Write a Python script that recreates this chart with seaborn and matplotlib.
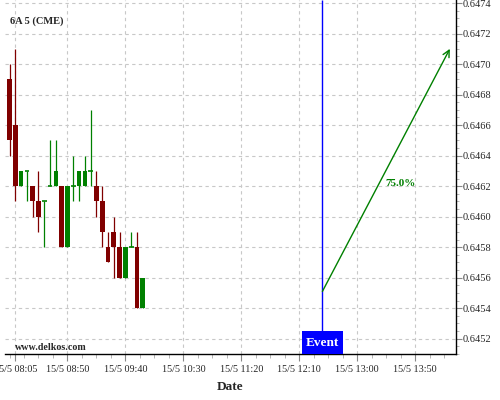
import numpy as np
import seaborn as sns
import matplotlib
matplotlib.use("Agg")
import matplotlib.pyplot as plt
from matplotlib.patches import Rectangle
from matplotlib.ticker import FixedLocator, MultipleLocator, FuncFormatter

# 5 minute candles, 15/5 from 08:00
times = ["08:00", "08:05", "08:10", "08:15", "08:20", "08:25", "08:30", "08:35",
         "08:40", "08:45", "08:50", "08:55", "09:00", "09:05", "09:10", "09:15",
         "09:20", "09:25", "09:30", "09:35", "09:40", "09:45", "09:50", "09:55"]
opens = [0.6469, 0.6466, 0.6462, 0.6463, 0.6462, 0.6461, 0.6461, 0.6462,
         0.6462, 0.6462, 0.6458, 0.6462, 0.6462, 0.6462, 0.6463, 0.6462,
         0.6461, 0.6458, 0.6459, 0.6458, 0.6456, 0.6458, 0.6458, 0.6454]
highs = [0.6470, 0.6471, 0.6463, 0.6463, 0.6462, 0.6463, 0.6461, 0.6465,
         0.6465, 0.6462, 0.6462, 0.6464, 0.6463, 0.6464, 0.6467, 0.6463,
         0.6462, 0.6459, 0.6460, 0.6459, 0.6458, 0.6459, 0.6459, 0.6456]
lows = [0.6464, 0.6461, 0.6462, 0.6461, 0.6460, 0.6459, 0.6458, 0.6462,
        0.6462, 0.6458, 0.6458, 0.6461, 0.6461, 0.6462, 0.6462, 0.6460,
        0.6458, 0.6457, 0.6456, 0.6456, 0.6456, 0.6458, 0.6454, 0.6454]
closes = [0.6465, 0.6462, 0.6463, 0.6463, 0.6461, 0.6460, 0.6461, 0.6462,
          0.6463, 0.6458, 0.6462, 0.6462, 0.6463, 0.6463, 0.6463, 0.6461,
          0.6459, 0.6457, 0.6458, 0.6456, 0.6458, 0.6458, 0.6454, 0.6456]

event_time = "12:30"
event_price = 0.64551
target_time = "14:20"
target_price = 0.64710
prob_label = "75.0%"

tick_times = ["08:05", "08:50", "09:40", "10:30", "11:20", "12:10", "13:00", "13:50"]
y_ticks = [0.6452, 0.6454, 0.6456, 0.6458, 0.6460, 0.6462, 0.6464,
           0.6466, 0.6468, 0.6470, 0.6472, 0.6474]


def to_min(s):
    h, m = s.split(":")
    return int(h) * 60 + int(m)


def fmt_time(v, pos=None):
    v = int(round(v))
    return "15/5 {:02d}:{:02d}".format(v // 60, v % 60)


sns.set_style("white")
plt.rcParams['font.family'] = ['Liberation Serif', 'DejaVu Serif']

t = np.array([to_min(s) for s in times], dtype=float)
o = np.array(opens)
h = np.array(highs)
lo = np.array(lows)
c = np.array(closes)
up = c >= o
cols = np.where(up, "#008000", "#800000")

fig = plt.figure(figsize=(5, 4), dpi=100)
ax = fig.add_axes([0.01, 0.115, 0.902, 0.885])

# wicks, bodies, dojis
ax.vlines(t, lo, h, colors=cols, linewidth=0.9, zorder=2)
body_w = 4.0
ax.bar(t, np.abs(c - o), bottom=np.minimum(o, c), width=body_w,
       color=cols, linewidth=0, zorder=3)
doji = np.abs(c - o) < 1e-7
ax.hlines(o[doji], t[doji] - body_w / 2, t[doji] + body_w / 2,
          colors=cols[doji], linewidth=1.2, zorder=3)

ax.set_xlim(476.1, 865.3)
ax.set_ylim(0.64510, 0.64742)

# event marker
ev = to_min(event_time)
box_top = 0.64525
ax.add_patch(Rectangle((ev - 17.7, 0.64510), 35.4, box_top - 0.64510,
                       facecolor="#0000ff", edgecolor="none", zorder=4))
ax.vlines([ev], box_top, 0.64742, colors="#0000ff", linewidth=1, zorder=4)
ax.text(ev, 0.645172, "Event", color="white", fontsize=9.5, fontweight="bold",
        ha="center", va="center", zorder=5)

ax.annotate("", xy=(to_min(target_time), target_price), xytext=(ev, event_price),
            arrowprops=dict(arrowstyle="->", color="#008000", lw=1,
                            mutation_scale=12, shrinkA=0, shrinkB=0), zorder=5)
ax.text(817, 0.64622, prob_label, color="#008000", fontsize=8,
        fontweight="bold", ha="center", va="center")

ax.text(0.011, 0.94, "6A 5 (CME)", transform=ax.transAxes, fontsize=7.5,
        fontweight="bold", ha="left", va="center")
ax.text(0.022, 0.017, "www.delkos.com", transform=ax.transAxes, fontsize=7.2,
        fontweight="bold", ha="left", va="center")

# axes styling
for side in ["left", "top"]:
    ax.spines[side].set_visible(False)
for side in ["bottom", "right"]:
    ax.spines[side].set_visible(True)
    ax.spines[side].set_color("black")
    ax.spines[side].set_linewidth(1)

ax.xaxis.set_major_locator(FixedLocator([to_min(s) for s in tick_times]))
ax.xaxis.set_major_formatter(FuncFormatter(fmt_time))
ax.xaxis.set_minor_locator(FixedLocator(np.arange(480, 866, 12.5)))
ax.yaxis.set_major_locator(FixedLocator(y_ticks))
ax.yaxis.set_major_formatter(FuncFormatter(lambda v, p: "{:.4f}".format(v)))
ax.yaxis.set_minor_locator(MultipleLocator(0.00005))
ax.yaxis.tick_right()

ax.tick_params(axis="x", which="major", bottom=True, length=5, width=0.8,
               color="#888888", labelsize=7.3, pad=3)
ax.tick_params(axis="x", which="minor", bottom=True, length=3, width=0.6,
               color="#aaaaaa")
ax.tick_params(axis="y", which="major", right=True, left=False, length=4,
               width=0.8, color="#888888", labelsize=7.5, pad=1)
ax.tick_params(axis="y", which="minor", right=True, left=False, length=2.5,
               width=0.6, color="#aaaaaa")

ax.grid(True, which="major", color="#c8c8c8", linestyle=(0, (3, 3)),
        linewidth=0.8)
ax.set_axisbelow(True)

ax.set_xlabel("Date", fontsize=9.5, fontweight="bold", labelpad=5)

fig.savefig("out.png", dpi=100)
